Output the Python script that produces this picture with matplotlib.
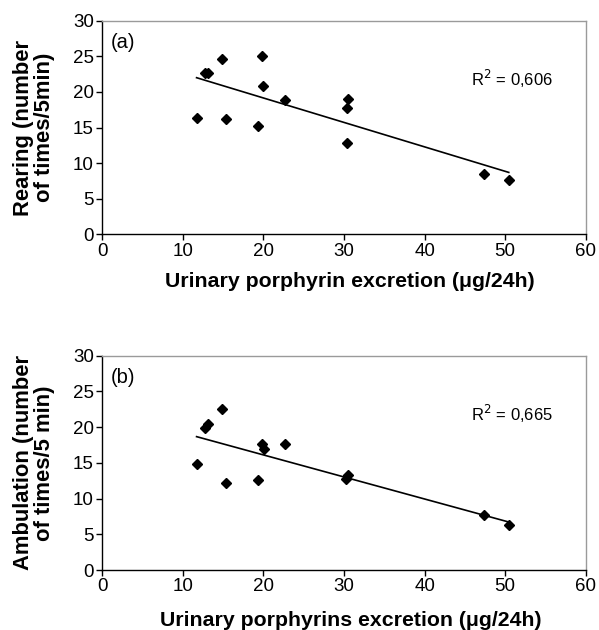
import matplotlib
matplotlib.use("Agg")
import matplotlib.pyplot as plt

plt.rcParams['font.family'] = ['Liberation Sans', 'DejaVu Sans']

# Panel (a): Rearing
a_x = [11.75, 12.8, 13.15, 14.8, 15.4, 19.3, 19.8, 20.0, 22.7, 30.35, 30.5, 30.35, 47.4, 50.45]
a_y = [16.3, 22.65, 22.65, 24.65, 16.2, 15.15, 25.0, 20.8, 18.8, 17.8, 18.95, 12.8, 8.5, 7.7]
a_fit_x = [11.7, 50.45]
a_fit_y = [22.0, 8.7]
a_r2 = "R$^2$ = 0,606"

# Panel (b): Ambulation
b_x = [11.75, 12.8, 13.1, 14.8, 15.4, 19.3, 19.8, 20.05, 22.7, 30.3, 30.45, 47.4, 50.45]
b_y = [14.9, 19.9, 20.5, 22.5, 12.2, 12.6, 17.7, 16.9, 17.6, 12.8, 13.3, 7.7, 6.3]
b_fit_x = [11.7, 50.45]
b_fit_y = [18.67, 6.72]
b_r2 = "R$^2$ = 0,665"

x_ticks = [0, 10, 20, 30, 40, 50, 60]
y_ticks = [0, 5, 10, 15, 20, 25, 30]

fig = plt.figure(figsize=(5.99, 6.30), dpi=100)
L, R = 0.1708, 0.9778
ax_a = fig.add_axes([L, 0.628, R - L, 0.9671 - 0.628])
ax_b = fig.add_axes([L, 0.0952, R - L, 0.4354 - 0.0952])

panels = [
    (ax_a, a_x, a_y, a_fit_x, a_fit_y, a_r2, "(a)",
     "Rearing (number\nof times/5min)", "Urinary porphyrin excretion (\u03bcg/24h)", -0.178),
    (ax_b, b_x, b_y, b_fit_x, b_fit_y, b_r2, "(b)",
     "Ambulation (number\nof times/5 min)", "Urinary porphyrins excretion (\u03bcg/24h)", -0.19),
]

for ax, xs, ys, fx, fy, r2, tag, ylab, xlab, xl_y in panels:
    ax.plot(xs, ys, linestyle='none', marker='D', markersize=5.5, color='black')
    ax.plot(fx, fy, color='black', linewidth=1.2)
    ax.set_xlim(0, 60)
    ax.set_ylim(0, 30)
    ax.set_xticks(x_ticks)
    ax.set_yticks(y_ticks)
    ax.tick_params(direction='out', length=4, width=1, labelsize=13.5, pad=2, colors='black')
    for s in ['left', 'bottom']:
        ax.spines[s].set_color('black')
        ax.spines[s].set_linewidth(1.0)
    for s in ['top', 'right']:
        ax.spines[s].set_color('#9a9a9a')
        ax.spines[s].set_linewidth(1.0)
    ax.text(1.0, 27.0, tag, fontsize=14.5, va='center', ha='left')
    ax.text(45.8, 21.8, r2, fontsize=12, va='center', ha='left')
    ax.set_ylabel(ylab, fontsize=15.8, fontweight='bold', linespacing=1.0)
    ax.yaxis.set_label_coords(-0.098, 0.5)
    ax.set_xlabel(xlab, fontsize=15.3, fontweight='bold')
    ax.xaxis.set_label_coords(0.513, xl_y)

fig.savefig("out.png", dpi=100)
